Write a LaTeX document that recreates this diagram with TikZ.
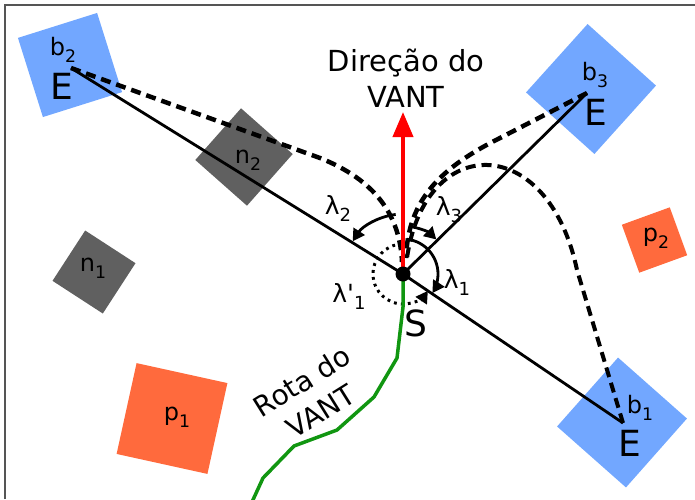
\documentclass[tikz,border=0pt]{standalone}
\usepackage{fontspec}
\setmainfont{DejaVu Sans}
\usetikzlibrary{arrows.meta}
\definecolor{bblue}{RGB}{114,167,255}
\definecolor{porange}{RGB}{255,106,61}
\definecolor{ngray}{RGB}{96,96,96}
\definecolor{rgreen}{RGB}{17,150,17}
\definecolor{framegray}{RGB}{85,85,85}
\newcommand\lsub[1]{\raisebox{-0.28em}{\scalebox{0.72}{#1}}}
\newcommand\fsz[1]{\fontsize{#1}{#1}\selectfont}
\tikzset{
  sq/.style={inner sep=0pt, outer sep=0pt, minimum size=#1, draw=none},
  ray/.style={line width=2.8pt, black},
  dashpath/.style={line width=4.5pt, dash pattern=on 10pt off 6pt},
  anglearc/.style={line width=2.8pt, -{Triangle[length=12pt,width=13pt]}},
  lbl/.style={inner sep=0pt, font=\fsz{24}},
  biglbl/.style={inner sep=0pt, font=\fsz{36}},
  lamlbl/.style={inner sep=0pt, font=\fsz{25}}
}
\begin{document}
\begin{tikzpicture}[x=1pt,y=-1pt]
\useasboundingbox (0,0) rectangle (695,499);
\coordinate (fa) at (5,499); \coordinate (fb) at (5,5); \coordinate (fc) at (695,5);
\draw[framegray, line width=1.5pt] (fa) -- (fb) -- (fc);

% squares
\node[sq=83pt, fill=bblue, rotate=17.5] (sqb2) at (70,65) {};
\node[sq=92pt, fill=bblue, rotate=-42] (sqb3) at (591,89) {};
\node[sq=92pt, fill=bblue, rotate=-41.5] (sqb1) at (622,422.5) {};
\node[sq=69pt, fill=ngray, rotate=-41.5] (sqn2) at (244,157) {};
\node[sq=60pt, fill=ngray, rotate=-33] (sqn1) at (94,272) {};
\node[sq=93pt, fill=porange, rotate=-12.4] (sqp1) at (172,418.5) {};
\node[sq=51pt, fill=porange, rotate=20] (sqp2) at (654.5,240) {};

% key points
\coordinate (S) at (403,274);
\coordinate (B2) at (71,68);
\coordinate (B3) at (587,93);
\coordinate (B1) at (623,423);
\coordinate (T) at (403,112);

% rays
\draw[ray] (S) -- (B2);
\draw[ray] (S) -- (B3);
\draw[ray] (S) -- (B1);

% dashed paths
\draw[dashpath] (B2) -- (320,158) .. controls (375,180) and (400,215) .. (402,262);
\draw[dashpath] (B3) -- (500,138) .. controls (440,168) and (408,200) .. (406,258);
\draw[dashpath, line width=4pt] (B1) -- (577,270) .. controls (548,132) and (425,132) .. (407,258);

% angle arcs
\draw[anglearc] (S) ++(-97:60) arc[start angle=-97, end angle=-147, radius=60];
\draw[anglearc] (S) ++(-83:48) arc[start angle=-83, end angle=-46, radius=48];
\draw[anglearc] (S) ++(-84:35) arc[start angle=-84, end angle=33, radius=35];
\draw[line width=3pt, dash pattern=on 2.8pt off 4.2pt, -{Triangle[length=12pt,width=13pt]}] (S) ++(-92:30) arc[start angle=-92, end angle=-326, radius=30];

% UAV direction and route
\draw[red, line width=4pt, -{Triangle[length=25pt,width=20pt]}] (S) -- (T);
\draw[rgreen, line width=3.5pt, line join=round] (S) -- (403,307) -- (397,358) -- (374,397) -- (337,430) -- (294,446) -- (263,478) -- (252,502);
\node[circle, fill=black, inner sep=0pt, minimum size=15pt] (dot) at (S) {};

% labels
\node[lbl] (lb2) at (63,50) {b\lsub{2}};
\node[biglbl] (le2) at (62,86) {E};
\node[lbl] (lb3) at (595,75) {b\lsub{3}};
\node[biglbl] (le3) at (596,112) {E};
\node[lbl] (lb1) at (640,408) {b\lsub{1}};
\node[biglbl] (le1) at (630,443) {E};
\node[lbl] (ln2) at (248,160) {n\lsub{2}};
\node[lbl] (ln1) at (93,268) {n\lsub{1}};
\node[lbl] (lp1) at (177,417) {p\lsub{1}};
\node[lbl] (lp2) at (656,238) {p\lsub{2}};
\node[lamlbl] (l2) at (338,208) {λ\lsub{2}};
\node[lamlbl] (l3) at (449,210) {λ\lsub{3}};
\node[lamlbl] (l1) at (457,282) {λ\lsub{1}};
\node[lamlbl] (l1p) at (349,296) {λ\textquotesingle\lsub{1}};
\node[biglbl] (lS) at (416,323) {S};
\node[align=center, inner sep=0pt, font=\fontsize{29}{36}\selectfont] (dir) at (406,78) {Direção do\\VANT};
\node[align=center, inner sep=0pt, font=\fontsize{28}{35}\selectfont, rotate=32] (rota) at (311,396) {Rota do\\VANT};
\end{tikzpicture}
\end{document}
